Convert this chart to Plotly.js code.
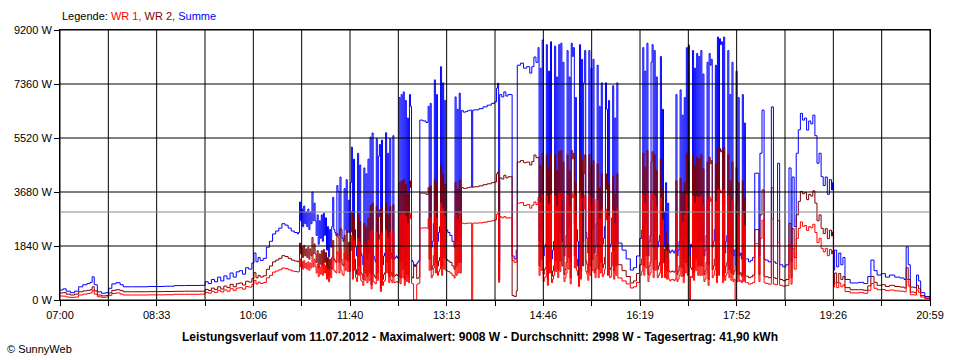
<!DOCTYPE html>
<html>
<head>
<meta charset="utf-8">
<script src="https://cdn.plot.ly/plotly-3.0.1.min.js"></script>
<style>html,body{margin:0;padding:0;background:#fff;}#chart{width:960px;height:360px;}</style>
</head>
<body>
<div id="chart"></div>
<script>
// Minutes after 07:00 and power in W. Summe = total, WR 2 (dark red), WR 1 (red)
const t1 = [0,3,6,10,14,18,22,26,29,31,33,36,40,44,47,50,54,58,61,70,85,100,110,120,135];
const sum1 = [340,380,300,250,300,450,520,560,600,790,520,280,230,250,400,550,590,520,450,450,460,470,490,495,500];
const wr2_1 = [240,250,200,170,200,280,310,330,350,450,310,170,140,150,240,330,350,320,280,280,285,290,295,300,300];
const wr1_1 = [136,130,100,90,100,170,200,220,240,320,200,110,90,100,160,220,240,200,170,170,175,180,195,195,200];

const t2 = [140,143,146,149,152,155,158,161,164,167,170,173,176,179,182,185,187,189,191,193,196,199,202,205,208,211,214,217,220,223,226,229];
const sum2 = [620,560,700,620,780,650,820,720,920,780,960,1000,880,1100,1050,1260,1600,1300,1450,1350,1420,1800,2000,2250,2350,2450,2600,2550,2450,2350,2300,2250];
const wr2_2 = [360,325,405,360,450,375,475,420,535,450,555,580,510,640,610,730,930,755,840,785,825,1045,1160,1300,1360,1420,1510,1480,1420,1360,1330,1300];
const wr1_2 = [260,235,295,260,330,275,345,300,385,330,405,420,370,460,440,530,670,545,610,565,595,755,840,950,990,1030,1090,1070,1030,990,970,950];

const t3 = [230,231,232,233,234,235,236,237,238,239,240,241,242,243,244,245,246,247,248,249,
  250,251,252,253,254,255,256,257,258,259,260,261,262,263,264,265,266,267,268,269,
  270,271,272,273,274,275,276,277,278,279,280,281,282,283,284,285,286,287,288,289,
  290,291,292,293,294,295,296,297,298,299,300,301,302,303,304,305,306,307,308,309,
  310,311,312,313,314,315,316,317,318,319,320,321,322,323,324,325,326,327,328,329,
  330,331,332,333,334,335,336,337,338,339,340,341,342,343,344,345,346];
const sum3 = [2300,3340,2700,3100,2500,3200,2600,3000,2500,3100,2400,3000,2600,3680,2700,3300,2700,
  2200,2900,1900,2700,2100,2900,2000,2960,2200,2800,1700,2500,1470,2400,1800,2500,
  3500,2400,2300,2200,3900,3700,2200,4190,2400,2100,2000,3800,2400,4100,2300,3400,2300,4000,
  5210,1700,4800,2400,1800,1500,5000,2000,4600,1600,1500,1200,4500,1600,4300,1400,4800,1600,
  5550,900,5690,1500,1400,1300,5500,1600,4900,5300,700,5450,1200,1500,1600,5700,2200,5000,1400,5500,1600,1400,5600,1400,
  1430,1500,1450,1400,
  6900,1300,7000,1800,7090,1200,6800,1500,6200,1400,7000,6600,
  1360,1300,1200,1150,1200,1250,1300,1350];
const wr2_3 = [1330,1940,1570,1800,1450,1860,1510,1740,1450,1800,1390,1740,1510,2130,1570,1910,1570,
  1280,1680,1100,1570,1220,1680,1160,1720,1280,1620,990,1450,850,1390,1040,1450,
  2030,1390,1330,1280,2260,2150,1280,2430,1390,1220,1160,2200,1390,2380,1330,1970,1330,2320,
  3020,990,2780,1390,1040,870,2900,1160,2670,930,870,700,2610,930,2490,810,2780,930,
  3220,520,3300,870,810,750,3190,930,2840,3070,410,3160,700,870,930,3310,1280,2900,810,3190,930,810,3250,810,
  830,870,840,810,
  4000,750,4060,1040,4110,700,3940,870,3600,810,4060,3830,
  790,750,1200,1150,1200,730,750,780];
const wr1_3 = [970,1400,1130,1300,1050,1340,1090,1260,1050,1300,1010,1260,1090,1550,1130,1390,1130,
  920,1220,800,1130,880,1220,840,1240,920,1180,710,1050,620,1010,760,1050,
  1470,1010,970,920,1640,1550,920,1760,1010,880,840,1600,1010,1720,970,1430,970,1680,
  2190,710,2020,1010,760,630,2100,840,1930,670,630,500,1890,670,1810,590,2020,670,
  2330,380,2390,630,590,550,2310,670,2060,2230,290,2290,500,630,670,2390,920,2100,590,2310,670,590,2350,590,
  600,630,610,590,
  2900,550,2940,760,2980,500,2860,630,2600,590,2940,2770,
  570,550,0,0,0,520,550,570];

const t4 = [347,350,353,
  355,356,357,358,359,360,361,362,363,364,365,366,367,368,369,370,371,372,
  374,376,378,380,
  381,382,383,384,385,386,387,
  389,391,393,395,397,398,400,404,408,412,416,419,421,422,423,424,426,428,430,432,434,436,438,440,441,444,447,450,453,455,457,459,
  461,462,463,464,465,466,467,468,469,470,471,472,473,474,475,476,477,478,479,480,481,482];
const sum4 = [6130,6100,6050,
  6600,2400,6700,1800,2000,2600,7500,2200,7000,2000,2300,2500,7950,2000,7400,2500,6800,2385,
  2300,2200,2000,1800,
  6920,2000,6500,2200,7050,2200,6450,
  6400,6420,6450,6470,3850,6470,6480,6520,6580,6640,6700,6750,7220,7390,1300,7000,6920,7090,6950,7000,7000,1500,1400,1700,8000,8070,7900,7950,7730,7950,8280,8100,
  8600,2000,7900,2400,8860,1500,1800,1900,8700,1200,7800,2200,8800,1400,1700,2000,8650,2300,7600,1800,8700,2300];
const wr2_4 = [3645,3640,3600,
  3830,1390,3890,1040,1160,1510,4100,1280,4000,1160,1330,1450,4600,1160,4290,1450,3940,1380,
  1330,1280,1160,1050,
  4010,1160,3770,1280,4090,1280,3830,
  3800,3810,3830,3850,3850,3850,3860,3890,3930,3960,4000,4020,4300,4360,700,4160,4120,4250,4160,4200,4200,150,120,300,4700,4750,4680,4700,4600,4720,4940,4850,
  4870,1160,4580,1390,5000,870,1040,1100,4950,700,4520,1280,5000,810,990,1160,4950,1330,4410,1040,5050,1330];
const wr1_4 = [2450,2460,2450,
  2770,1010,2810,760,840,1090,3000,920,2800,840,970,1050,3300,840,3110,1050,2860,1000,
  970,920,840,750,
  2900,840,2730,920,2960,920,2620,
  2600,2610,2620,2620,0,2620,2620,2630,2650,2680,2700,2730,2920,2960,600,2840,2800,2840,2790,2800,2800,1350,1280,1400,3300,3320,3220,3250,3130,3230,3340,3250,
  3500,840,3320,1010,3600,630,760,800,3550,500,3280,920,3600,590,710,840,3550,970,3190,760,3650,970];

const t5 = [483,484,485,486,487,488,489,490,491,492,493,494,495,496,497,498,499,500,501,502,
  503,504,505,506,507,508,509,510,511,512,513,514,515,516,517,518,519,520,521,522,
  523,524,525,526,527,528,529,530,531,532,533,534,535,536,537,
  538,542,546,550,553,556,559,561,
  562,563,564,565,566,567,568,569,570,571,572,573,574,575,576,577,578,579,580,581,
  582,583,584,585,586,587,588,589,590,591,592,593,
  594,595,596,597,598,599,600,601,602,603,604,605,606,607,608,609,610,611,612,613,614,615,616,617];
const sum5 = [8750,2000,8100,1500,1800,2200,8500,2500,7600,1300,
  8750,8300,8600,2600,6900,2400,2000,1100,8700,1700,
  8200,2000,7400,8500,2300,2100,1600,8500,2000,7900,
  2400,8200,1600,1800,2600,8000,1800,6600,2200,7400,
  1900,2100,2500,7400,6500,2000,6800,1800,1900,2800,
  7300,1700,6200,2000,7400,
  1940,1700,1400,1020,1100,1500,2100,2385,
  8600,2000,7800,2600,8750,1500,2000,2200,8100,8700,
  1800,8500,2400,7600,1800,2000,2200,8300,1800,6500,
  3000,1800,4000,1700,3300,1700,1600,1650,1700,1650,1600,1700,
  7000,1500,1700,2000,7160,1900,6300,1400,6900,2200,
  8600,2000,8690,1500,1900,1800,8500,1600,7900,2400,
  8400,2000,8300,2000];
const wr2_5 = [5100,1160,4700,870,1040,1280,4950,1450,4400,750,
  5100,4810,5000,1510,4000,1390,1160,640,5050,990,
  4750,1160,4300,4950,1330,1220,930,4950,1160,4580,
  1390,4750,930,1040,1510,4640,1040,3830,1280,4300,
  1100,1220,1450,4300,3770,1160,3940,1040,1100,1620,
  4230,990,3600,1160,4300,
  1200,1000,800,580,650,900,1200,1400,
  5000,1160,4520,1510,5100,870,1160,1280,4700,5050,
  1040,4950,1390,4410,1040,1160,1280,4810,1040,3770,
  1740,1040,2320,990,1910,990,950,960,990,960,950,990,
  4060,870,990,1160,4150,1100,3650,810,4000,1280,
  5000,1160,5040,1500,1100,1040,4950,930,4580,1390,
  4870,1160,4810,1160];
const wr1_5 = [3650,3650,3400,630,760,920,3550,1050,3190,550,
  3650,3490,3600,1090,2900,1010,840,460,3650,710,
  3440,3440,3100,3570,970,880,670,3570,840,3320,
  1010,3440,3440,760,1090,3360,760,2770,920,3100,
  800,880,1050,3100,2730,840,2860,760,800,1180,
  3070,710,2600,840,3100,
  750,650,550,410,450,600,850,980,
  3600,840,3280,1090,3650,630,840,920,3400,3650,
  760,3550,1010,3190,760,840,920,3490,760,2730,
  1260,760,1680,710,1390,710,650,690,710,690,650,710,
  2940,630,710,840,3010,800,2650,590,2900,920,
  3600,840,3650,0,800,760,3550,670,3320,1010,
  3530,840,3490,840];

const t6 = [618,619,620,621,622,623,624,625,626,627,628,629,630,631,632,633,634,635,636,637,
  638,639,640,641,642,643,644,645,646,647,648,649,650,651,652,653,654,655,656,657,658,659,660,661,
  662,664,666,668,670,672,674,675,677,679,680,683,686,688,690,692,694,697,700,703,
  705,706,708,710,712,714,716,718,720,722,724,726,728,730,732,734,736,738,740,742,744,745];
const sum6 = [8500,2000,7700,1500,1700,2200,8100,1200,8400,8000,
  8200,1800,2000,2400,8000,1400,8960,2000,8900,8700,
  8800,1400,8960,1600,2000,2200,8500,1800,7000,1600,
  8100,1500,1700,1200,7800,1500,6900,1500,1600,1400,
  7000,1500,6030,1400,
  1400,1300,1350,1450,4320,4320,1500,5000,6470,1400,1360,1300,6580,1300,1250,4660,1200,1130,1200,4500,
  1300,4190,2500,5000,5800,6360,6130,6200,5790,6100,6000,6300,5600,4660,5000,4200,3900,4190,3600,4100,3750,4000];
const wr2_6 = [4950,1160,4470,870,990,1280,4700,700,4870,4640,
  4750,1040,1160,1390,4640,810,5200,1160,5160,5050,
  5100,810,5200,930,1160,1280,4950,1040,4060,930,
  4700,870,990,1200,4520,870,4000,870,930,810,
  4060,870,3500,810,
  810,760,790,850,2400,2400,870,2900,3750,810,790,760,3820,760,730,2700,700,660,700,2610,
  760,2430,1450,2900,3360,3700,3620,3660,3420,3600,3540,3720,3300,2700,2900,2440,2260,2430,2090,2380,2180,2320];
const wr1_6 = [3550,840,3230,630,710,920,3400,500,3530,3360,
  3450,760,840,1010,3360,590,3760,840,3740,3650,
  3700,590,3760,670,840,920,3550,760,2940,670,
  3400,630,710,0,3280,630,2900,630,670,590,
  2940,630,2530,590,
  590,540,560,600,1920,1920,630,2100,2720,590,570,540,2760,540,520,1960,500,470,500,1890,
  540,1760,1050,2100,2440,2660,2510,2540,2370,2500,2460,2580,2300,1960,2100,1760,1640,1760,1510,1720,1570,1680];

const t7 = [746,747,749,751,753,755,757,762,770,775,779,782,785,788,792,796,800,805,810,814,816,818,820,824,826,828,830,834,839];
const sum7 = [1020,1700,1130,1600,1200,1450,700,580,600,560,800,1360,1000,850,900,780,850,780,750,700,1810,1200,440,420,850,650,250,120,60];
const wr2_7 = [580,920,600,900,700,800,420,350,350,330,480,800,600,500,520,460,500,460,440,410,1100,700,270,250,500,380,150,70,30];
const wr1_7 = [440,580,420,580,450,520,290,240,250,230,330,560,400,350,360,320,340,310,300,280,700,480,180,170,340,260,100,50,20];

const xLabels = ["07:00","08:33","10:06","11:40","13:13","14:46","16:19","17:52","19:26","20:59"];
const yTicks = [0,1840,3680,5520,7360,9200];
const avgW = 2998;
const titleText = "Leistungsverlauf vom 11.07.2012 - Maximalwert: 9008 W - Durchschnitt: 2998 W - Tagesertrag: 41,90 kWh";

const T = [].concat(t1,t2,t3,t4,t5,t6,t7);
const SUM = [].concat(sum1,sum2,sum3,sum4,sum5,sum6,sum7);
const WR2 = [].concat(wr2_1,wr2_2,wr2_3,wr2_4,wr2_5,wr2_6,wr2_7);
const WR1 = [].concat(wr1_1,wr1_2,wr1_3,wr1_4,wr1_5,wr1_6,wr1_7);

const span = 839;
const nMinor = (xLabels.length - 1) * 2;
const xTickVals = [], xTickText = [];
for (let i = 0; i <= nMinor; i++) {
  xTickVals.push(span * i / nMinor);
  xTickText.push(i % 2 === 0 ? xLabels[i / 2] : "");
}

const mk = (y, color, name) => ({
  x: T, y: y, type: 'scatter', mode: 'lines', name: name,
  line: {color: color, width: 1, shape: 'hv'}, hoverinfo: 'skip'
});
const traces = [mk(SUM, '#0000ff', 'Summe'), mk(WR2, '#800000', 'WR 2'), mk(WR1, '#ff0000', 'WR 1')];

const shapes = [];
xTickVals.forEach(v => shapes.push({type:'line', layer:'above', xref:'x', yref:'y', x0:v, x1:v, y0:0, y1:9200, line:{color:'#000', width:1}}));
yTicks.forEach(v => shapes.push({type:'line', layer:'above', xref:'x', yref:'y', x0:0, x1:span, y0:v, y1:v, line:{color:'#000', width:1}}));
shapes.push({type:'line', layer:'above', xref:'x', yref:'y', x0:0, x1:span, y0:avgW, y1:avgW, line:{color:'#8c8c8c', width:1}});

const font = 'Liberation Sans, Arial, sans-serif';
const axisCommon = {ticks:'outside', ticklen:5, tickwidth:1, tickcolor:'#000', showgrid:false,
  showline:true, linecolor:'#000', linewidth:1, mirror:true, zeroline:false,
  fixedrange:true, tickfont:{family:font, size:11, color:'#000'}};
const layout = {
  width: 960, height: 360,
  margin: {l:60, r:30, t:30, b:60, pad:0},
  paper_bgcolor: '#ffffff', plot_bgcolor: '#ffffff',
  showlegend: false,
  font: {family: font, size: 11, color: '#000'},
  xaxis: Object.assign({range:[0, span], tickmode:'array', tickvals:xTickVals, ticktext:xTickText}, axisCommon),
  yaxis: Object.assign({range:[0, 9200], tickmode:'array', tickvals:yTicks, ticktext:yTicks.map(v => v + ' W')}, axisCommon),
  shapes: shapes,
  annotations: [
    {xref:'paper', yref:'paper', x:0, y:1 + 13.5/270, xanchor:'left', yanchor:'middle', showarrow:false,
     text:'Legende: <span style="color:#ff0000">WR 1,</span> <span style="color:#800000">WR 2,</span> <span style="color:#0000ff">Summe</span>',
     font:{family:font, size:11, color:'#000'}},
    {xref:'paper', yref:'paper', x:(480-60)/870, y:-37/270, xanchor:'center', yanchor:'middle', showarrow:false,
     text:'<b>' + titleText + '</b>', font:{family:font, size:12, color:'#000'}},
    {xref:'paper', yref:'paper', x:-55/870, y:-49/270, xanchor:'left', yanchor:'middle', showarrow:false,
     text:'© SunnyWeb', font:{family:font, size:11, color:'#000'}}
  ]
};
Plotly.newPlot('chart', traces, layout, {displayModeBar:false, staticPlot:true});
</script>
</body>
</html>
